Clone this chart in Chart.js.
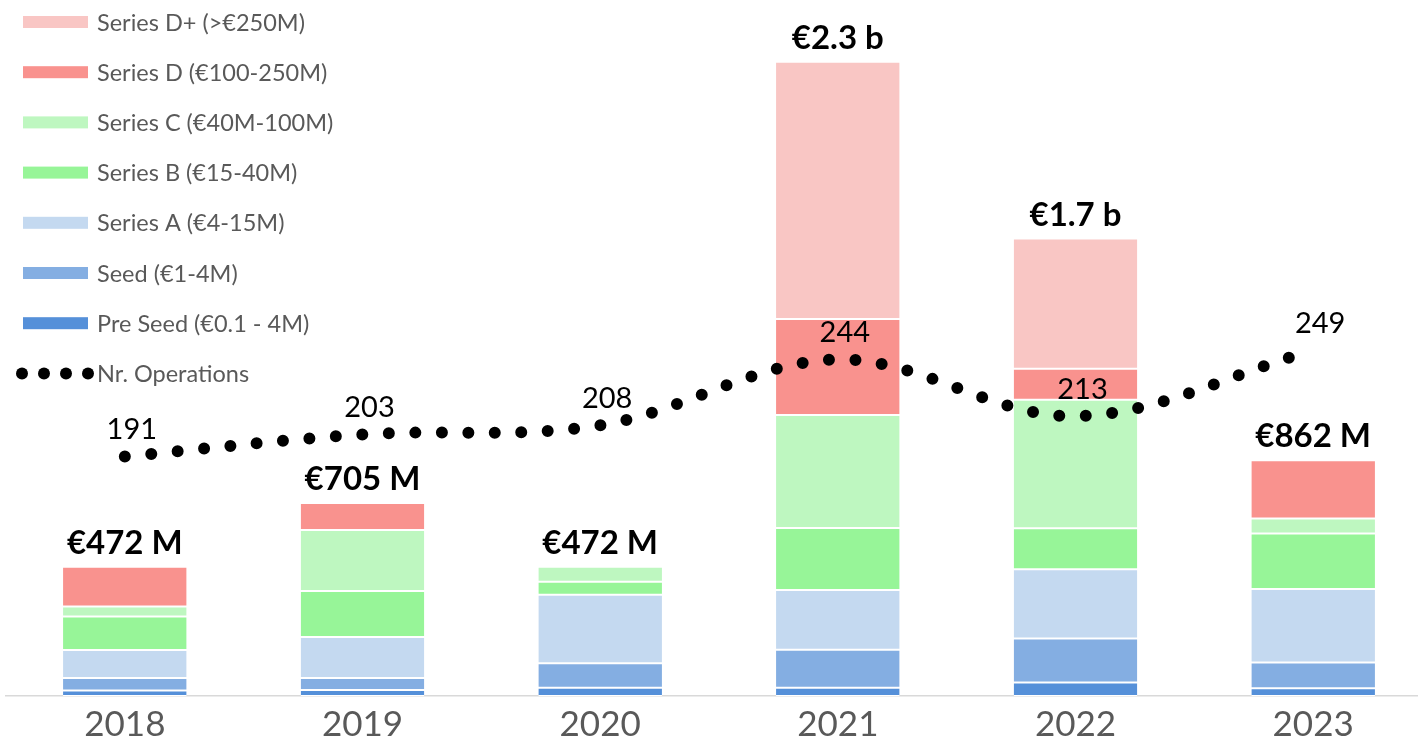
<!DOCTYPE html>
<html>
<head>
<meta charset="utf-8">
<script src="https://cdn.jsdelivr.net/npm/chart.js@4"></script>
<style>
  body { margin: 0; overflow: hidden; background: #fff; }
  .chart-box { position: relative; width: 1432px; height: 742px; }
</style>
</head>
<body>
<div class="chart-box"><canvas id="myChart"></canvas></div>
<script>
const years = ["2018", "2019", "2020", "2021", "2022", "2023"];

const preSeed = [20, 22, 30, 30, 49, 28];
const seed = [46, 44, 90, 139, 161, 94];
const seriesA = [102, 150, 250, 218, 253, 269];
const seriesB = [123, 168, 48, 227, 150, 203];
const seriesC = [36, 223, 54, 413, 470, 55];
const seriesD = [145, 98, null, 351, 113, 213];
const seriesDPlus = [null, null, null, 940, 476, null];

const operations = [191, 203, 208, 244, 213, 249];
const totalLabels = ["€472 M", "€705 M", "€472 M", "€2.3 b", "€1.7 b", "€862 M"];

const fontName = "Lato, 'Open Sans', sans-serif";
const greyText = "#595959";

const barSet = (label, data, color) => ({
    type: "bar",
    label: label,
    data: data,
    backgroundColor: color,
    borderColor: "#ffffff",
    borderWidth: { top: 1, bottom: 1, left: 0, right: 0 },
    borderSkipped: false,
    stack: "funding",
    yAxisID: "y",
    order: 1,
});

const barDatasets = [
    barSet("Pre Seed (€0.1 - 4M)", preSeed, "#5590d9"),
    barSet("Seed (€1-4M)", seed, "#84aee2"),
    barSet("Series A (€4-15M)", seriesA, "#c4d9f0"),
    barSet("Series B (€15-40M)", seriesB, "#97f598"),
    barSet("Series C (€40M-100M)", seriesC, "#bef7c0"),
    barSet("Series D (€100-250M)", seriesD, "#f9928e"),
    barSet("Series D+ (>€250M)", seriesDPlus, "#f9c6c4"),
];

const lineDataset = {
    type: "line",
    label: "Nr. Operations",
    data: operations,
    borderColor: "#000000",
    borderWidth: 12,
    borderDash: [0, 26.5],
    borderCapStyle: "round",
    tension: 0.35,
    pointRadius: 0,
    fill: false,
    yAxisID: "y2",
    order: 0,
};

// totals above bars, numbers above the dotted line, and the left legend
const labelsPlugin = {
    id: "labelsPlugin",
    afterDatasetsDraw: (chart) => {
        const ctx = chart.ctx;
        const xScale = chart.scales.x;
        const yScale = chart.scales.y;

        ctx.save();
        ctx.fillStyle = "#000000";
        ctx.textAlign = "center";
        ctx.textBaseline = "alphabetic";
        ctx.font = "bold 33px " + fontName;
        years.forEach((year, i) => {
            let total = 0;
            barDatasets.forEach((ds) => { total += ds.data[i] || 0; });
            const x = xScale.getPixelForValue(i);
            const y = yScale.getPixelForValue(total);
            ctx.fillText(totalLabels[i], x, y - 13);
        });

        const lineMeta = chart.getDatasetMeta(chart.data.datasets.indexOf(lineDataset));
        ctx.font = "29px " + fontName;
        ctx.textBaseline = "middle";
        lineMeta.data.forEach((pt, i) => {
            ctx.fillText(String(operations[i]), pt.x + 7, pt.y - 27);
        });

        // legend
        const items = barDatasets.slice().reverse();
        ctx.textAlign = "left";
        ctx.font = "23.5px " + fontName;
        items.forEach((ds, i) => {
            const cy = 22 + i * 50.2;
            ctx.fillStyle = ds.backgroundColor;
            ctx.fillRect(23, cy - 6, 65, 12);
            ctx.fillStyle = greyText;
            ctx.fillText(ds.label, 97, cy + 1);
        });
        const ly = 22 + items.length * 50.2;
        ctx.fillStyle = "#000000";
        [22, 44, 66, 88].forEach((dx) => {
            ctx.beginPath();
            ctx.arc(dx, ly, 6, 0, Math.PI * 2);
            ctx.fill();
        });
        ctx.fillStyle = greyText;
        ctx.fillText(lineDataset.label, 97, ly + 1);
        ctx.restore();
    },
};

const ctx = document.getElementById("myChart").getContext("2d");
const myChart = new Chart(ctx, {
    data: {
        labels: years,
        datasets: [...barDatasets, lineDataset],
    },
    options: {
        responsive: true,
        maintainAspectRatio: false,
        animation: false,
        layout: { padding: { top: 12, left: 6, right: 0, bottom: 0 } },
        datasets: {
            bar: { categoryPercentage: 1, barPercentage: 0.52 },
        },
        plugins: {
            legend: { display: false },
            tooltip: { enabled: false },
        },
        scales: {
            x: {
                stacked: true,
                grid: { display: false, drawTicks: false },
                border: { display: true, color: "#d9d9d9", width: 1.5 },
                ticks: {
                    color: greyText,
                    font: { family: fontName, size: 35 },
                    padding: 8,
                },
                afterFit: (scale) => { scale.height = 46; },
            },
            y: {
                stacked: true,
                display: false,
                min: 0,
                max: 2500,
            },
            y2: {
                display: false,
                min: 60,
                max: 434,
            },
        },
    },
    plugins: [labelsPlugin],
});
</script>
</body>
</html>
